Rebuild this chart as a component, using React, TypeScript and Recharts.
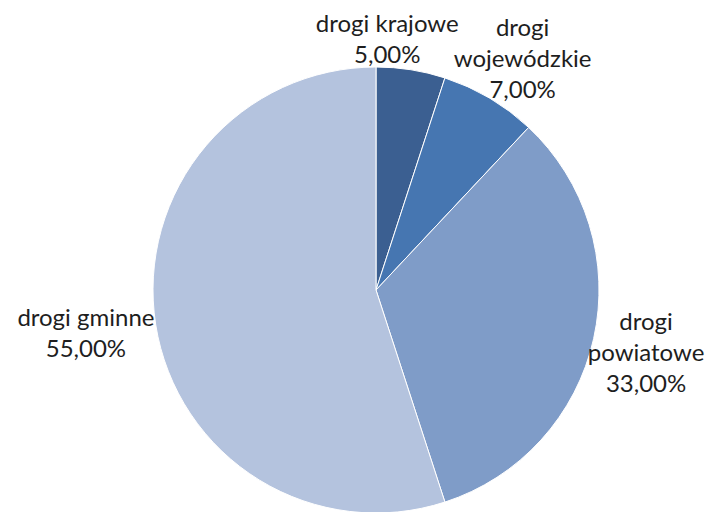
import { PieChart, Pie, Cell } from "recharts"

const categories = ["drogi krajowe", "drogi wojewódzkie", "drogi powiatowe", "drogi gminne"]
const shares = [5, 7, 33, 55]
// label text, split the way the reference wraps it
const labelLines = [
  ["drogi krajowe"],
  ["drogi", "wojewódzkie"],
  ["drogi", "powiatowe"],
  ["drogi gminne"],
]
const percentLabels = ["5,00%", "7,00%", "33,00%", "55,00%"]

const COLORS = ["#3b5f91", "#4676b1", "#7f9cc8", "#b4c3de"]

const data = categories.map((name, i) => ({ name, value: shares[i] }))

const FONT = "Lato, 'Roboto', sans-serif"
const FONT_SIZE = 24
const LINE_H = 31
const GAP = 3

type Box = { x: number; y: number; w: number; h: number }

// place each label box just outside the slice, then push apart any that overlap
function layoutLabels(cx: number, cy: number, r: number): Box[] {
  const total = shares.reduce((a, b) => a + b, 0)
  let acc = 0
  const boxes = shares.map((v, i) => {
    const mid = ((acc + v / 2) / total) * Math.PI * 2
    acc += v
    const ux = Math.sin(mid)
    const uy = -Math.cos(mid)
    const lines = [...labelLines[i], percentLabels[i]]
    const w = Math.max(...lines.map((l) => l.length)) * FONT_SIZE * 0.47
    const h = lines.length * LINE_H
    return {
      x: cx + (r + GAP) * ux + (w / 2) * ux,
      y: cy + (r + GAP) * uy + (h / 2) * uy,
      w,
      h,
    }
  })
  for (let i = 0; i < boxes.length; i++) {
    for (let j = 0; j < boxes.length; j++) {
      if (i === j || shares[i] > shares[j]) continue
      const a = boxes[i]
      const b = boxes[j]
      const ox = (a.w + b.w) / 2 - Math.abs(a.x - b.x)
      const oy = (a.h + b.h) / 2 - Math.abs(a.y - b.y)
      if (ox > 0 && oy > 0) a.x += a.x < b.x ? -ox : ox
    }
  }
  return boxes
}

function renderLabel(props: any) {
  const { cx, cy, outerRadius, index } = props
  const box = layoutLabels(cx, cy, outerRadius)[index]
  const lines = [...labelLines[index], percentLabels[index]]
  const top = box.y - box.h / 2
  return (
    <text
      key={`lbl-${index}`}
      x={box.x}
      textAnchor="middle"
      fill="#1e1e1e"
      fontFamily={FONT}
      fontSize={FONT_SIZE}
    >
      {lines.map((l, k) => (
        <tspan key={k} x={box.x} y={top + LINE_H * k + 27}>
          {l}
        </tspan>
      ))}
    </text>
  )
}

export default function App() {
  return (
    <div style={{ position: "absolute", left: 0, top: 0, width: 721, height: 512, background: "#fff" }}>
      <PieChart width={721} height={512} margin={{ top: 0, right: 0, bottom: 0, left: 0 }}>
        <Pie
          data={data}
          dataKey="value"
          nameKey="name"
          cx={376}
          cy={290}
          outerRadius={223}
          startAngle={90}
          endAngle={-270}
          stroke="#ffffff"
          strokeWidth={1}
          label={renderLabel}
          labelLine={false}
          isAnimationActive={false}
        >
          {data.map((_, index) => (
            <Cell key={index} fill={COLORS[index % COLORS.length]} />
          ))}
        </Pie>
      </PieChart>
    </div>
  )
}
